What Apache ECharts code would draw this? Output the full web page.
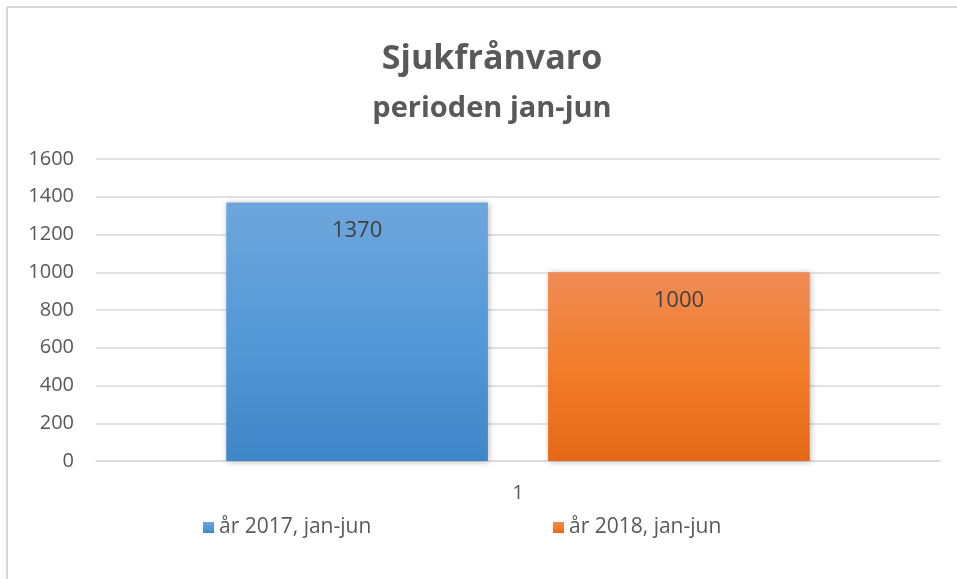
<!DOCTYPE html>
<html>
<head>
<meta charset="utf-8">
<script src="https://cdn.jsdelivr.net/npm/echarts@6/dist/echarts.min.js"></script>
<style>
	html, body { margin: 0; padding: 0; background: #fff; }
	#sjuk-chart { width: 957px; height: 579px; }
</style>
</head>
<body>
<div id="sjuk-chart"></div>
<script>
var categories = ['1'];
var seriesNames = ['år 2017, jan-jun', 'år 2018, jan-jun'];
var values2017 = [1370];
var values2018 = [1000];
var yTicks = { min: 0, max: 1600, interval: 200 };

function sjukChart(){
	var chart = echarts.init(document.getElementById('sjuk-chart'));
	var font = 'Open Sans';

	function grad(top, mid, bottom){
		return new echarts.graphic.LinearGradient(0, 0, 0, 1, [
			{offset: 0, color: top},
			{offset: 0.5, color: mid},
			{offset: 1, color: bottom}
		]);
	}

	var barLabel = {
		show: true,
		position: 'insideTop',
		distance: 17,
		color: '#404040',
		fontSize: 22,
		fontFamily: font
	};

	var legendText = {fontFamily: font, fontSize: 21, color: '#595959'};

	var option = {
		backgroundColor: '#fff',
		color: ['#5b9bd5', '#ed7d31'],
		graphic: [
			{type: 'line', shape: {x1: 7, y1: 7, x2: 957, y2: 7}, style: {stroke: '#d9d9d9', lineWidth: 2}},
			{type: 'line', shape: {x1: 7, y1: 7, x2: 7, y2: 579}, style: {stroke: '#d9d9d9', lineWidth: 2}}
		],
		title: [
			{
				text: 'Sjukfrånvaro',
				left: 487, top: 37, textAlign: 'center',
				textStyle: {fontFamily: font, fontSize: 34, fontWeight: 'bold', color: '#595959'}
			},
			{
				text: 'perioden jan-jun',
				left: 487, top: 89, textAlign: 'center',
				textStyle: {fontFamily: font, fontSize: 29, fontWeight: 'bold', color: '#595959'}
			}
		],
		legend: [
			{
				data: [seriesNames[0]],
				left: 198, top: 512,
				icon: 'rect', itemWidth: 11, itemHeight: 11, itemGap: 6,
				textStyle: legendText
			},
			{
				data: [seriesNames[1]],
				left: 548, top: 512,
				icon: 'rect', itemWidth: 11, itemHeight: 11, itemGap: 6,
				textStyle: legendText
			}
		],
		grid: {left: 96, right: 17, top: 159, bottom: 118},
		xAxis: {
			type: 'category',
			data: categories,
			axisTick: {show: false},
			axisLine: {lineStyle: {color: '#d9d9d9', width: 1.5}},
			axisLabel: {color: '#595959', fontSize: 20, fontFamily: font, margin: 22}
		},
		yAxis: {
			type: 'value',
			min: yTicks.min,
			max: yTicks.max,
			interval: yTicks.interval,
			axisLine: {show: false},
			axisTick: {show: false},
			splitLine: {lineStyle: {color: '#d9d9d9', width: 1.5}},
			axisLabel: {
				color: '#595959', fontSize: 20, fontFamily: font, margin: 22,
				formatter: function (v) { return String(v); }
			}
		},
		series: [
			{
				name: seriesNames[0],
				type: 'bar',
				data: values2017,
				barWidth: '31%',
				barGap: '23%',
				label: barLabel,
				itemStyle: {
					color: grad('#6ea6dc', '#5599d8', '#3f86c8'),
					shadowBlur: 6, shadowColor: 'rgba(0,0,0,0.25)', shadowOffsetX: 1, shadowOffsetY: 1
				}
			},
			{
				name: seriesNames[1],
				type: 'bar',
				data: values2018,
				barWidth: '31%',
				label: barLabel,
				itemStyle: {
					color: grad('#f08b55', '#f27d2a', '#e46818'),
					shadowBlur: 6, shadowColor: 'rgba(0,0,0,0.25)', shadowOffsetX: 1, shadowOffsetY: 1
				}
			}
		]
	};

	chart.setOption(option);
}

sjukChart();
</script>
</body>
</html>
